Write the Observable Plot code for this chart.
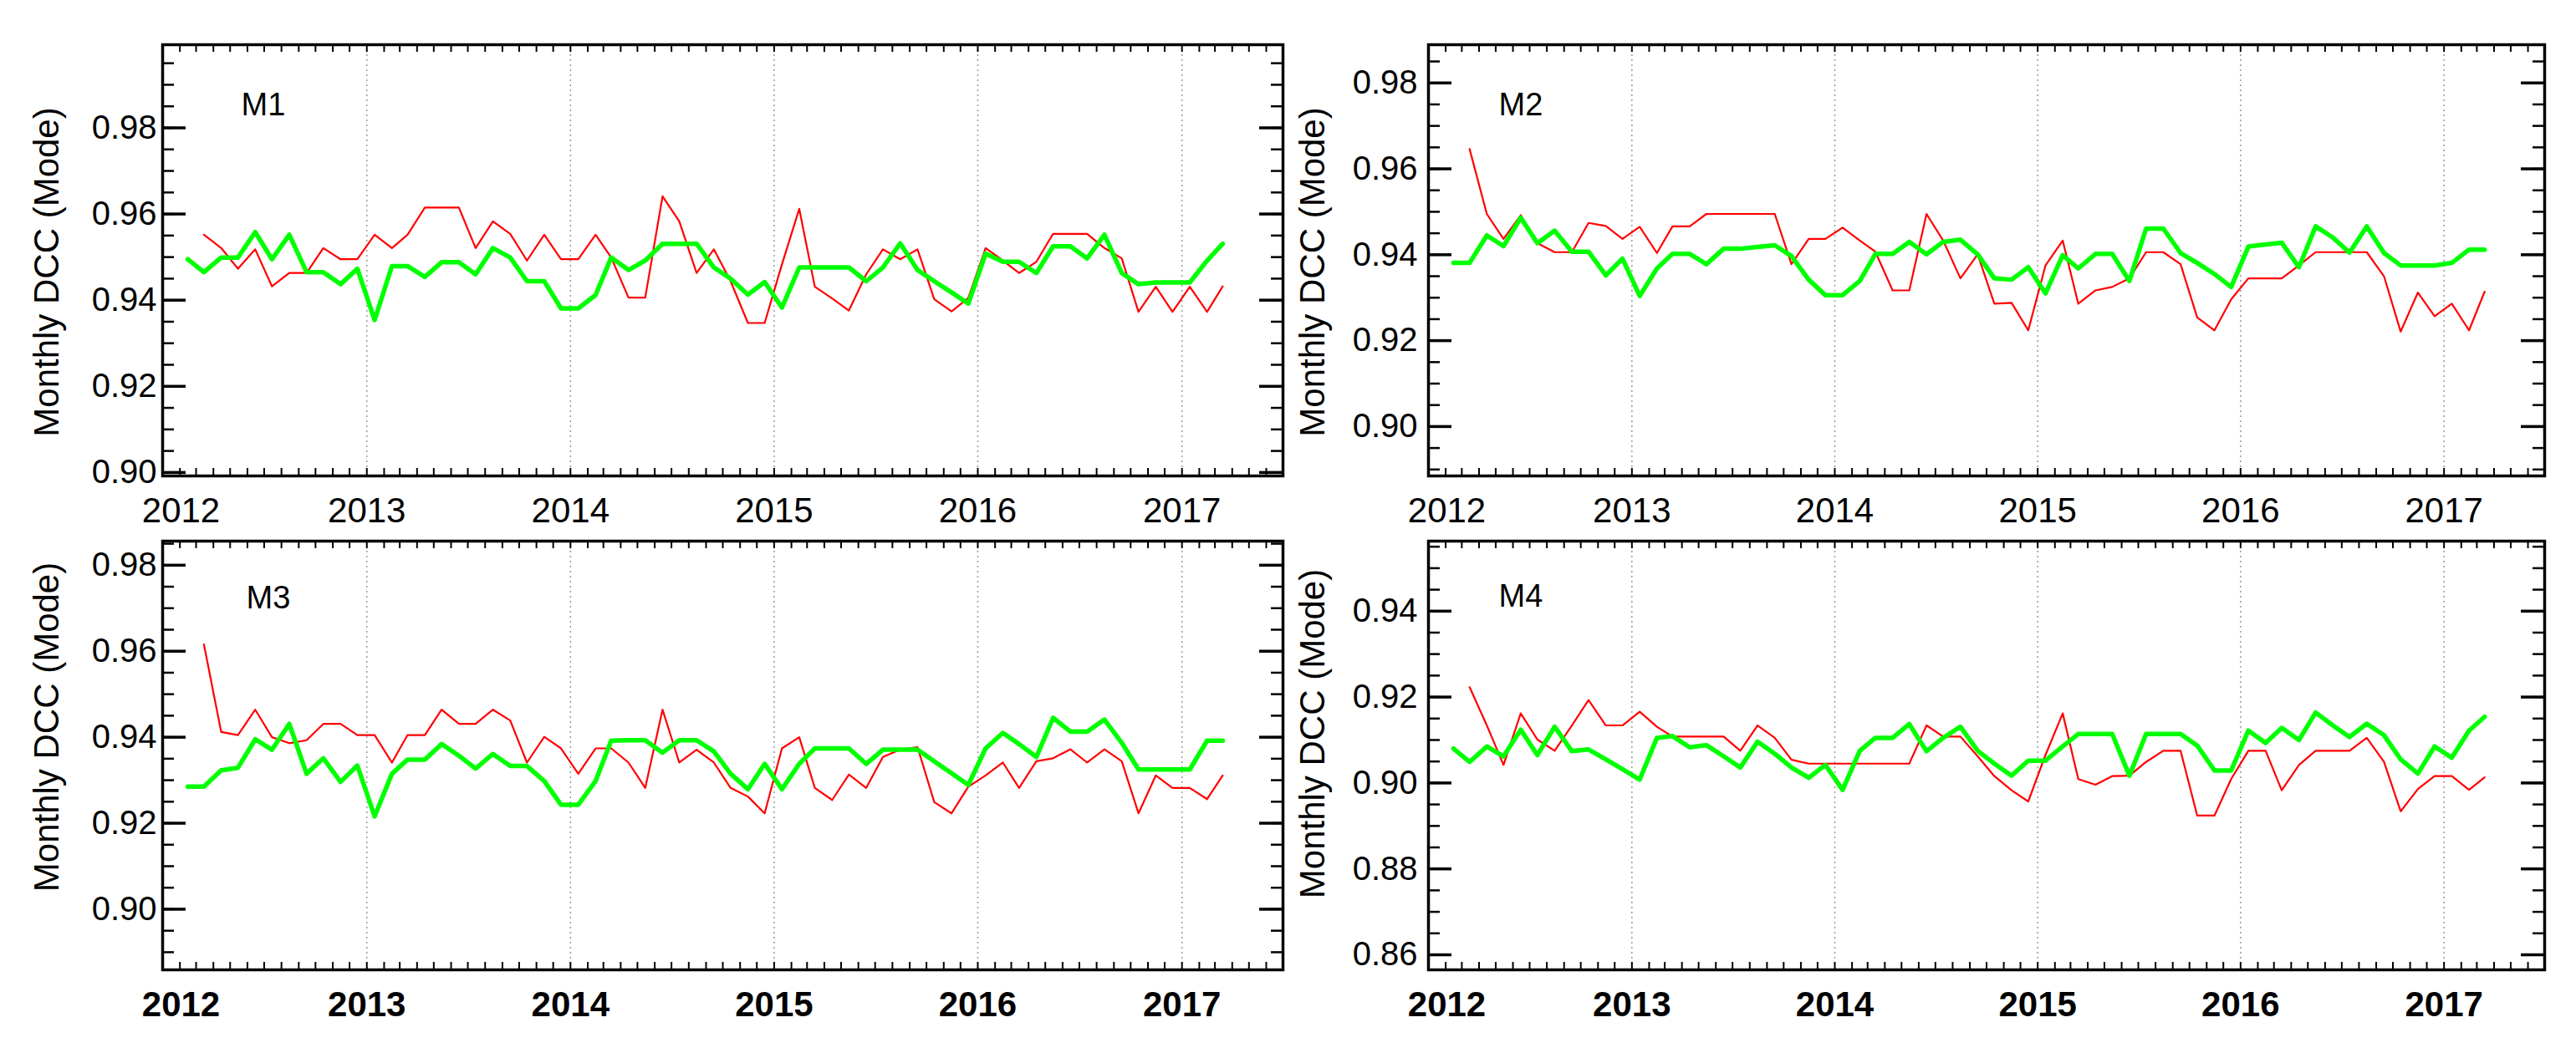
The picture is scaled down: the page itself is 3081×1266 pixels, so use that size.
<!DOCTYPE html>
<html><head><meta charset="utf-8">
<script src="https://cdn.jsdelivr.net/npm/d3@7"></script>
<script src="https://cdn.jsdelivr.net/npm/@observablehq/plot@0.6"></script>
<style>
html,body{margin:0;padding:0;background:#fff;}
#wrap{position:relative;width:3081px;height:1266px;overflow:hidden;font-family:"Liberation Sans",Arial,sans-serif;}
.panel{position:absolute;}
</style></head><body><div id="wrap"></div>
<script>
// ---------- DATA (monthly, Feb 2012 – Mar 2017; red series begins Mar 2012) ----------
const firstMonth = "2012-02";
const lastMonth = "2017-03";
const yearLabels = [2012, 2013, 2014, 2015, 2016, 2017];

const m1Green = [0.9495,0.9465,0.9499,0.9499,0.9558,0.9495,0.9552,0.9465,0.9465,0.9437,0.9473,0.9354,
  0.9479,0.9479,0.9454,0.9488,0.9488,0.9460,0.9521,0.9499,0.9444,0.9444,0.9381,0.9381,
  0.9412,0.9499,0.9470,0.9492,0.9531,0.9531,0.9531,0.9476,0.9450,0.9413,0.9442,0.9383,
  0.9476,0.9476,0.9476,0.9476,0.9444,0.9476,0.9532,0.9470,0.9444,0.9418,0.9392,0.9508,
  0.9489,0.9489,0.9463,0.9525,0.9525,0.9497,0.9552,0.9463,0.9437,0.9441,0.9441,0.9441,
  0.9492,0.9531];
const m1Red = [null,0.9552,0.9521,0.9473,0.9518,0.9432,0.9463,0.9463,0.9521,0.9495,0.9495,0.9552,
  0.9521,0.9552,0.9615,0.9615,0.9615,0.9521,0.9583,0.9554,0.9492,0.9552,0.9495,0.9495,
  0.9552,0.9499,0.9406,0.9406,0.9641,0.9583,0.9463,0.9518,0.9444,0.9347,0.9347,0.9483,
  0.9612,0.9431,0.9404,0.9376,0.9460,0.9518,0.9495,0.9518,0.9402,0.9374,0.9405,0.9521,
  0.9492,0.9463,0.9489,0.9554,0.9554,0.9554,0.9521,0.9497,0.9373,0.9431,0.9373,0.9431,
  0.9373,0.9432];

const m2Green = [0.9381,0.9381,0.9445,0.9420,0.9486,0.9427,0.9456,0.9407,0.9407,0.9352,0.9391,0.9304,
  0.9368,0.9402,0.9402,0.9378,0.9414,0.9414,0.9418,0.9422,0.9397,0.9342,0.9306,0.9306,
  0.9339,0.9402,0.9402,0.9430,0.9401,0.9430,0.9435,0.9401,0.9345,0.9342,0.9371,0.9310,
  0.9399,0.9368,0.9402,0.9402,0.9339,0.9461,0.9461,0.9404,0.9381,0.9355,0.9325,0.9419,
  0.9424,0.9428,0.9371,0.9466,0.9440,0.9405,0.9466,0.9404,0.9375,0.9375,0.9375,0.9381,
  0.9412,0.9412];
const m2Red = [null,0.9646,0.9495,0.9437,0.9492,0.9427,0.9406,0.9406,0.9474,0.9467,0.9437,0.9465,
  0.9404,0.9466,0.9466,0.9495,0.9495,0.9495,0.9495,0.9495,0.9378,0.9437,0.9437,0.9463,
  0.9433,0.9407,0.9317,0.9317,0.9495,0.9433,0.9345,0.9401,0.9286,0.9288,0.9224,0.9375,
  0.9433,0.9286,0.9317,0.9325,0.9345,0.9406,0.9406,0.9378,0.9254,0.9224,0.9296,0.9345,
  0.9345,0.9345,0.9375,0.9406,0.9406,0.9406,0.9406,0.9350,0.9221,0.9312,0.9257,0.9286,
  0.9224,0.9314];

const m3Green = [0.9285,0.9285,0.9323,0.9329,0.9395,0.9371,0.9431,0.9315,0.9351,0.9296,0.9334,0.9216,
  0.9315,0.9348,0.9348,0.9384,0.9357,0.9327,0.9361,0.9333,0.9333,0.9298,0.9243,0.9243,
  0.9298,0.9392,0.9393,0.9393,0.9364,0.9393,0.9393,0.9367,0.9315,0.9279,0.9338,0.9279,
  0.9338,0.9374,0.9374,0.9374,0.9338,0.9371,0.9371,0.9371,0.9344,0.9316,0.9289,0.9374,
  0.9410,0.9384,0.9354,0.9445,0.9413,0.9413,0.9441,0.9387,0.9325,0.9325,0.9325,0.9325,
  0.9392,0.9392];
const m3Red = [null,0.9616,0.9412,0.9405,0.9464,0.9400,0.9386,0.9393,0.9431,0.9431,0.9405,0.9405,
  0.9341,0.9405,0.9405,0.9464,0.9431,0.9431,0.9464,0.9439,0.9341,0.9401,0.9374,0.9315,
  0.9374,0.9374,0.9341,0.9282,0.9464,0.9341,0.9371,0.9341,0.9282,0.9262,0.9223,0.9374,
  0.9400,0.9282,0.9254,0.9313,0.9282,0.9354,0.9371,0.9377,0.9249,0.9223,0.9285,0.9311,
  0.9341,0.9282,0.9344,0.9351,0.9372,0.9341,0.9372,0.9344,0.9223,0.9311,0.9282,0.9282,
  0.9256,0.9311];

const m4Green = [0.9080,0.9049,0.9085,0.9062,0.9124,0.9065,0.9131,0.9074,0.9078,0.9055,0.9032,0.9008,
  0.9105,0.9109,0.9083,0.9088,0.9062,0.9036,0.9096,0.9068,0.9036,0.9012,0.9042,0.8984,
  0.9075,0.9105,0.9105,0.9137,0.9074,0.9105,0.9131,0.9075,0.9045,0.9017,0.9052,0.9052,
  0.9085,0.9114,0.9114,0.9114,0.9017,0.9114,0.9114,0.9114,0.9087,0.9029,0.9029,0.9122,
  0.9093,0.9128,0.9100,0.9164,0.9134,0.9107,0.9138,0.9111,0.9055,0.9022,0.9085,0.9059,
  0.9122,0.9154];
const m4Red = [null,0.9223,0.9134,0.9042,0.9162,0.9101,0.9075,0.9134,0.9193,0.9134,0.9134,0.9166,
  0.9131,0.9108,0.9108,0.9108,0.9108,0.9075,0.9134,0.9105,0.9054,0.9045,0.9045,0.9045,
  0.9045,0.9045,0.9045,0.9045,0.9134,0.9108,0.9108,0.9062,0.9016,0.8983,0.8957,0.9065,
  0.9162,0.9009,0.8996,0.9016,0.9017,0.9049,0.9075,0.9075,0.8924,0.8924,0.9009,0.9075,
  0.9075,0.8983,0.9042,0.9075,0.9075,0.9075,0.9105,0.9049,0.8934,0.8986,0.9016,0.9016,
  0.8984,0.9013];

const m1YTicks = [0.90, 0.92, 0.94, 0.96, 0.98];
const m2YTicks = [0.90, 0.92, 0.94, 0.96, 0.98];
const m3YTicks = [0.90, 0.92, 0.94, 0.96, 0.98];
const m4YTicks = [0.86, 0.88, 0.90, 0.92, 0.94];
const yTitle = "Monthly DCC (Mode)";

// ---------- LAYOUT ----------
const parseMonth = d3.utcParse("%Y-%m");
const months = d3.utcMonth.range(parseMonth(firstMonth), d3.utcMonth.offset(parseMonth(lastMonth), 1))
  .map(d => d3.utcDay.offset(d, 14));           // mid-month positions
const xDomain = [new Date(Date.UTC(2012, 0, 1)), new Date(Date.UTC(2017, 6, 1))];
const monthTicks = d3.utcMonth.range(xDomain[0], d3.utcDay.offset(xDomain[1], 1));
const yearDates = yearLabels.map(y => new Date(Date.UTC(y, 0, 1)));

const panels = [
  {name: "M1", green: m1Green, red: m1Red, yTicks: m1YTicks, yDomain: [0.8992, 0.9993],
   left: 0, top: 0, width: 1540, mL: 194, mR: 6, mT: 53, mB: 64, pad: 7, titleDy: 14, labDx: 94, labDy: 58, bold: false},
  {name: "M2", green: m2Green, red: m2Red, yTicks: m2YTicks, yDomain: [0.8885, 0.9889],
   left: 1540, top: 0, width: 1541, mL: 168, mR: 38, mT: 53, mB: 64, pad: 13, titleDy: 14, labDx: 84, labDy: 58, bold: false},
  {name: "M3", green: m3Green, red: m3Red, yTicks: m3YTicks, yDomain: [0.8859, 0.9856],
   left: 0, top: 633, width: 1540, mL: 194, mR: 6, mT: 14, mB: 106, pad: 7, titleDy: -34, labDx: 100, labDy: 54, bold: true},
  {name: "M4", green: m4Green, red: m4Red, yTicks: m4YTicks, yDomain: [0.8565, 0.9563],
   left: 1540, top: 633, width: 1541, mL: 168, mR: 38, mT: 14, mB: 106, pad: 13, titleDy: -26, labDx: 84, labDy: 52, bold: true}
];

const wrap = document.getElementById("wrap");
for (const p of panels) {
  const height = 633;
  const innerW = p.width - p.mL - p.mR;
  const innerH = height - p.mT - p.mB;
  const green = months.map((date, i) => ({date, value: p.green[i]}));
  const red = months.map((date, i) => ({date, value: p.red[i]}));
  const [lo, hi] = p.yDomain;
  const minorY = d3.range(Math.ceil(lo * 200), Math.floor(hi * 200) + 1).map(k => k / 200);
  const fmt = d3.format(".2f");

  const chart = Plot.plot({
    width: p.width, height,
    marginLeft: p.mL, marginRight: p.mR, marginTop: p.mT, marginBottom: p.mB,
    style: {fontFamily: "Liberation Sans, Arial, sans-serif", fontSize: "40px", background: "white", color: "black"},
    x: {type: "utc", domain: xDomain, axis: null},
    y: {domain: p.yDomain},
    marks: [
      Plot.ruleX(yearDates.slice(1), {x: d => d, stroke: "#9a9a9a", strokeWidth: 1.5, strokeDasharray: "2,4"}),
      // inward tick marks
      Plot.tickY(minorY, {y: d => d, stroke: "black", strokeWidth: 2.5, insetRight: innerW - 14}),
      Plot.tickY(minorY, {y: d => d, stroke: "black", strokeWidth: 2.5, insetLeft: innerW - 14}),
      Plot.tickY(p.yTicks, {y: d => d, stroke: "black", strokeWidth: 3.5, insetRight: innerW - 28}),
      Plot.tickY(p.yTicks, {y: d => d, stroke: "black", strokeWidth: 3.5, insetLeft: innerW - 28}),
      Plot.tickX(monthTicks, {x: d => d, stroke: "black", strokeWidth: 2, insetTop: innerH - 9}),
      Plot.tickX(monthTicks, {x: d => d, stroke: "black", strokeWidth: 2, insetBottom: innerH - 9}),
      // series
      Plot.line(red, {x: "date", y: "value", stroke: "#ff0000", strokeWidth: 2.2, defined: d => d.value != null}),
      Plot.line(green, {x: "date", y: "value", stroke: "#00ff00", strokeWidth: 5.5}),
      Plot.frame({stroke: "black", strokeWidth: 3.5}),
      // y axis labels
      Plot.axisY(p.yTicks, {tickSize: 0, tickPadding: p.pad, tickFormat: fmt, fontSize: 40, label: null}),
      Plot.text([yTitle], {frameAnchor: "left", rotate: -90, dx: -138, dy: p.titleDy, textAnchor: "middle", lineAnchor: "middle", fontSize: 42}),
      // x year labels
      Plot.text(yearDates.slice(0, 1), {x: d => d, text: d => String(d.getUTCFullYear()), frameAnchor: "bottom", dy: 42, dx: 22, lineAnchor: "middle", fontSize: 42, fontWeight: p.bold ? "bold" : "normal"}),
      Plot.text(yearDates.slice(1), {x: d => d, text: d => String(d.getUTCFullYear()), frameAnchor: "bottom", dy: 42, lineAnchor: "middle", fontSize: 42, fontWeight: p.bold ? "bold" : "normal"}),
      // panel label
      Plot.text([p.name], {frameAnchor: "top-left", dx: p.labDx, dy: p.labDy, textAnchor: "start", lineAnchor: "top", fontSize: 38})
    ]
  });
  chart.classList.add("panel");
  chart.style.left = p.left + "px";
  chart.style.top = p.top + "px";
  wrap.appendChild(chart);
}
</script>
</body></html>
